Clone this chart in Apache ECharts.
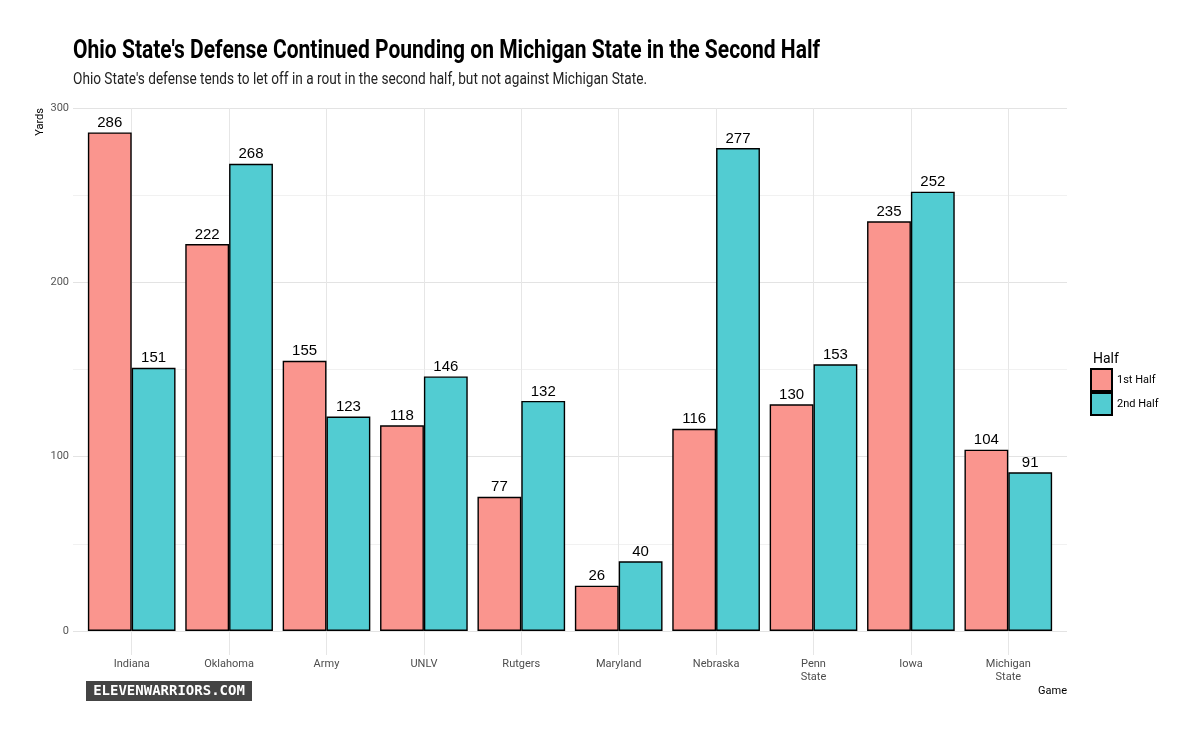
<!DOCTYPE html>
<html>
<head>
<meta charset="utf-8">
<script src="https://cdn.jsdelivr.net/npm/echarts@6/dist/echarts.min.js"></script>
<style>html,body{margin:0;padding:0;background:#fff}#c{width:1200px;height:736px}</style>
</head>
<body>
<div id="c"></div>
<script>
const games = ['Indiana','Oklahoma','Army','UNLV','Rutgers','Maryland','Nebraska','Penn\nState','Iowa','Michigan\nState'];
const firstHalf = [286,222,155,118,77,26,116,130,235,104];
const secondHalf = [151,268,123,146,132,40,277,153,252,91];
const yTicks = [0,100,200,300];

const titleText = "Ohio State's Defense Continued Pounding on Michigan State in the Second Half";
const subText = "Ohio State's defense tends to let off in a rout in the second half, but not against Michigan State.";

function fitScale(text, font, target) {
  const ctx = document.createElement('canvas').getContext('2d');
  ctx.font = font;
  const w = ctx.measureText(text).width;
  return w > 0 ? target / w : 1;
}
const titleScale = fitScale(titleText, 'bold 26px Roboto', 747);
const subScale = fitScale(subText, '16px Roboto', 574);

const chart = echarts.init(document.getElementById('c'), null, {renderer:'canvas'});
const barStyle = (c) => ({color:c, borderColor:'#000', borderWidth:1.4});
chart.setOption({
  animation:false,
  backgroundColor:'#fff',
  title:[
    {text:'Half', left:1088, top:347, textStyle:{fontFamily:"Roboto,sans-serif", fontWeight:'normal', fontSize:14, color:'#000'}}
  ],
  legend:{
    orient:'vertical', left:1090, top:368, padding:0, itemWidth:21, itemHeight:22, itemGap:0, icon:'rect',
    textStyle:{fontFamily:"Roboto,sans-serif", fontSize:11, color:'#000'},
    data:['1st Half','2nd Half']
  },
  grid:[
    {left:73, right:133, top:108, bottom:105},
    {left:83, right:143, top:108, bottom:105}
  ],
  xAxis:[
    {gridIndex:0, type:'value', min:0, max:1, show:false},
    {gridIndex:1, type:'category', data:games, boundaryGap:true,
     axisLine:{show:false},
     axisTick:{show:true, alignWithLabel:true, length:24, lineStyle:{color:'#e6e6e6', width:1}},
     splitLine:{show:true, alignWithLabel:true, lineStyle:{color:'#e6e6e6', width:1}},
     axisLabel:{margin:27, fontFamily:"Roboto,sans-serif", fontSize:11, color:'#4d4d4d', lineHeight:13, interval:0}}
  ],
  yAxis:[
    {gridIndex:0, type:'value', min:0, max:300, interval:100,
     axisLine:{show:false}, axisTick:{show:false},
     axisLabel:{margin:4, fontFamily:"Roboto,sans-serif", fontSize:11, color:'#555'},
     splitLine:{show:true, lineStyle:{color:'#e3e3e3', width:1}},
     minorTick:{show:false, splitNumber:2},
     minorSplitLine:{show:true, lineStyle:{color:'#f1f1f1', width:1}}},
    {gridIndex:1, type:'value', min:0, max:300, interval:100, show:false, splitLine:{show:false}}
  ],
  graphic:[
    {type:'text', x:73, y:38, scaleX:titleScale, scaleY:1,
     style:{text:titleText, fontFamily:"Roboto,sans-serif", fontWeight:'bold', fontSize:26, fill:'#000', verticalAlign:'top'}},
    {type:'text', x:73, y:72, scaleX:subScale, scaleY:1,
     style:{text:subText, fontFamily:"Roboto,sans-serif", fontWeight:'normal', fontSize:16, fill:'#222', verticalAlign:'top'}},
    {type:'text', left:35, top:108, rotation:Math.PI/2,
     style:{text:'Yards', fontFamily:"Roboto,sans-serif", fontSize:11, fill:'#000'}},
    {type:'text', right:133, top:686,
     style:{text:'Game', fontFamily:"Roboto,sans-serif", fontSize:11, fill:'#000'}},
    {type:'group', left:86, top:681, children:[
      {type:'rect', shape:{x:0,y:0,width:166,height:20}, style:{fill:'#444'}},
      {type:'text', x:83, y:10, style:{text:'ELEVENWARRIORS.COM', fontFamily:"'DejaVu Sans Mono',monospace", fontWeight:'bold', fontSize:14, fill:'#fff', align:'center', verticalAlign:'middle'}}
    ]}
  ],
  series:[
    {name:'1st Half', type:'bar', xAxisIndex:1, yAxisIndex:1, data:firstHalf, barGap:'0%', barCategoryGap:'10%',
     itemStyle:barStyle('#fa958e'),
     label:{show:true, position:'top', distance:2, fontFamily:"'Liberation Sans',Arial,sans-serif", fontSize:15, color:'#000'}},
    {name:'2nd Half', type:'bar', xAxisIndex:1, yAxisIndex:1, data:secondHalf, barGap:'0%', barCategoryGap:'10%',
     itemStyle:barStyle('#52ccd2'),
     label:{show:true, position:'top', distance:2, fontFamily:"'Liberation Sans',Arial,sans-serif", fontSize:15, color:'#000'}}
  ]
});
</script>
</body>
</html>
